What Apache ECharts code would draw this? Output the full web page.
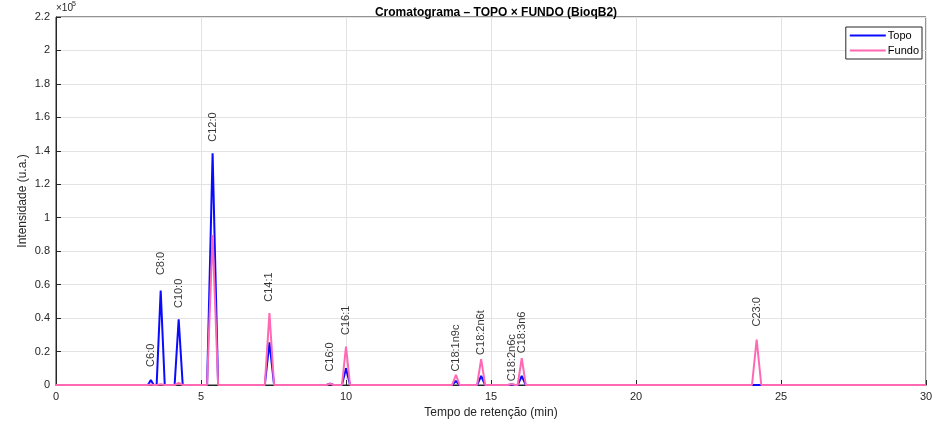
<!DOCTYPE html>
<html><head><meta charset="utf-8">
<script src="https://cdn.jsdelivr.net/npm/echarts@6/dist/echarts.min.js"></script>
<style>html,body{margin:0;padding:0;background:#fff}#c{width:947px;height:424px}</style>
</head><body><div id="c"></div>
<script>
// Peak retention times (min)
var peakTimes   = [3.27, 3.61, 4.23, 5.40, 7.36, 9.45, 10.00, 13.79, 14.66, 15.71, 16.06, 24.16];
// Peak heights (u.a.)
var topoHeights  = [3000, 56400, 39300, 138500, 25500, 800, 10000, 2400, 5400, 300, 5400, 0];
var fundoHeights = [300, 500, 1200, 89700, 43000, 800, 22900, 6000, 15500, 600, 16000, 27200];
// Peak half base width (min)
var peakHalfWidths = [0.10, 0.14, 0.14, 0.19, 0.16, 0.12, 0.14, 0.13, 0.14, 0.12, 0.14, 0.16];
// Labels and their anchor heights (u.a.)
var peakLabels = ['C6:0','C8:0','C10:0','C12:0','C14:1','C16:0','C16:1','C18:1n9c','C18:2n6t','C18:2n6c','C18:3n6','C23:0'];
var labelHeights = [10800, 65700, 46000, 145400, 49800, 8000, 29900, 8000, 18000, 2200, 19000, 35000];
var xTicks = [0,5,10,15,20,25,30];

function buildTrace(h){
  var pts=[[0,0]];
  for(var i=0;i<peakTimes.length;i++){
    if(h[i]<=0) continue;
    pts.push([peakTimes[i]-peakHalfWidths[i],0]);
    pts.push([peakTimes[i],h[i]]);
    pts.push([peakTimes[i]+peakHalfWidths[i],0]);
  }
  pts.push([30,0]);
  return pts;
}
var labelData = peakLabels.map(function(n,i){return {value:[peakTimes[i],labelHeights[i]],name:n};});

var font='Liberation Sans, Arial, sans-serif';
var chart = echarts.init(document.getElementById('c'));
chart.setOption({
  animation:false,
  textStyle:{fontFamily:font},
  title:{text:'Cromatograma \u2013 TOPO \u00d7 FUNDO (BioqB2)',left:491,textAlign:'center',top:2,
    textStyle:{fontFamily:font,fontSize:12,fontWeight:'bold',color:'#000'}},
  grid:{left:56,right:21,top:17,bottom:39,show:true,borderColor:'#262626',borderWidth:1,backgroundColor:'#fff'},
  legend:{right:25,top:27,orient:'vertical',data:['Topo','Fundo'],itemWidth:36,itemHeight:2,itemGap:4,
    icon:'rect',backgroundColor:'#fff',borderColor:'#262626',borderWidth:1,padding:[3,3,3,4],
    textStyle:{fontFamily:font,fontSize:11,color:'#000',padding:[0,0,0,-3]}},
  xAxis:{type:'value',min:0,max:30,interval:5,name:'Tempo de reten\u00e7\u00e3o (min)',nameLocation:'middle',nameGap:22,
    nameMoveOverlap:false,
    nameTextStyle:{fontFamily:font,fontSize:12,color:'#262626'},
    axisLine:{show:true,lineStyle:{color:'#262626'}},axisTick:{show:true,inside:true,length:5,lineStyle:{color:'#262626'}},
    axisLabel:{fontFamily:font,fontSize:11,color:'#262626',margin:6},
    splitLine:{show:true,lineStyle:{color:'#e3e3e3'}}},
  yAxis:{type:'value',min:0,max:220000,interval:20000,name:'Intensidade (u.a.)',nameLocation:'middle',nameGap:27,
    nameMoveOverlap:false,
    nameTextStyle:{fontFamily:font,fontSize:12,color:'#262626'},
    axisLine:{show:true,lineStyle:{color:'#262626'}},axisTick:{show:true,inside:true,length:5,lineStyle:{color:'#262626'}},
    axisLabel:{fontFamily:font,fontSize:11,color:'#262626',margin:6,formatter:function(v){return String(Math.round(v/10000)/10);}},
    splitLine:{show:true,lineStyle:{color:'#e3e3e3'}}},
  graphic:[{type:'text',left:56,top:3,style:{text:'\u00d710',font:'10px '+font,fill:'#262626'}},
           {type:'text',left:72,top:1,style:{text:'5',font:'7px '+font,fill:'#262626'}}],
  series:[
    {name:'Topo',type:'line',data:buildTrace(topoHeights),showSymbol:false,symbol:'none',
      lineStyle:{color:'#0a0aff',width:2},itemStyle:{color:'#0a0aff'},z:3},
    {name:'Fundo',type:'line',data:buildTrace(fundoHeights),showSymbol:false,symbol:'none',
      lineStyle:{color:'#ff69b4',width:2},itemStyle:{color:'#ff69b4'},z:4},
    {name:'labels',type:'scatter',data:labelData,symbolSize:0,silent:true,z:5,
      label:{show:true,formatter:function(p){return p.name;},rotate:90,position:'insideLeft',offset:[0,0],
        fontFamily:font,fontSize:11,color:'#000',align:'left',verticalAlign:'middle',distance:0}}
  ]
});
</script></body></html>
